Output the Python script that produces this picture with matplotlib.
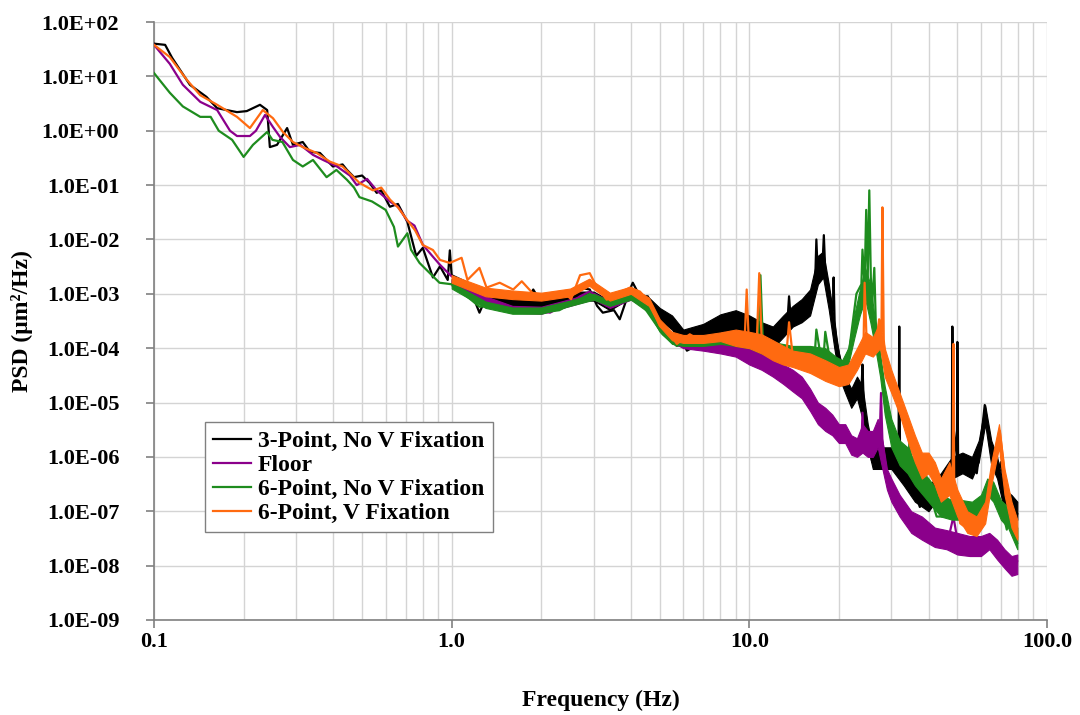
import numpy as np
import matplotlib
matplotlib.use("Agg")
import matplotlib.pyplot as plt
from matplotlib.ticker import FuncFormatter, LogLocator, NullLocator, FixedLocator

plt.rcParams['font.family'] = ['Liberation Serif', 'DejaVu Serif']
plt.rcParams['font.weight'] = 'bold'

### Valeurs : (frequence Hz, PSD um^2/Hz)
three_point = [
    (0.100, 40), (0.109, 38), (0.115, 22), (0.132, 7.0), (0.15, 4.2), (0.163, 2.6),
    (0.19, 2.2), (0.205, 2.3), (0.227, 3.0), (0.24, 2.4), (0.245, 0.50), (0.259, 0.55),
    (0.28, 1.12), (0.293, 0.55), (0.316, 0.62), (0.334, 0.41), (0.361, 0.39), (0.399, 0.22),
    (0.43, 0.24), (0.445, 0.19), (0.47, 0.14), (0.50, 0.15), (0.53, 0.11), (0.56, 0.072),
    (0.58, 0.08), (0.62, 0.04), (0.66, 0.045), (0.71, 0.021), (0.76, 0.005), (0.80, 0.007),
    (0.865, 0.002), (0.914, 0.0032), (0.97, 0.0018), (0.986, 0.0063), (1.0, 0.0022),
    (1.13, 0.0016), (1.24, 4.5e-4), (1.31, 9e-4), (1.45, 6e-4), (1.61, 8e-4), (1.72, 5.5e-4),
    (1.88, 1.2e-3), (2.01, 6.5e-4), (2.14, 9e-4), (2.36, 7e-4), (2.52, 1.0e-3), (2.70, 1.3e-3),
    (2.91, 1.2e-3), (3.08, 6e-4), (3.22, 4.5e-4), (3.51, 5e-4), (3.67, 3.4e-4), (3.97, 1.2e-3),
    (4.06, 1.6e-3), (4.29, 9e-4), (4.56, 9e-4), (4.8, 5e-4), (5.0, 5e-4), (5.41, 3.5e-4),
    (5.71, 2.5e-4), (6.17, 9e-5), (6.82, 1.2e-4), (7.5, 2.5e-4), (8.15, 3.5e-4), (8.8, 4e-4),
    (9.5, 3e-4), (10.2, 2.5e-4), (11.5, 1.6e-4), (12.3, 9e-5), (12.9, 3e-4), (13.4, 2.5e-4),
    (13.6, 9e-4), (13.8, 3e-4), (15.1, 7e-4), (16.0, 6e-4), (16.6, 1e-3), (16.8, 1e-2),
    (17.0, 2e-3), (17.2, 3.2e-3), (17.6, 3e-3), (17.8, 1.2e-2), (18.0, 2.5e-3), (18.2, 2e-3),
    (18.9, 6e-4), (19.1, 5e-4), (19.2, 2e-3), (19.35, 3e-4), (19.6, 1.4e-4), (20.5, 4e-5),
    (21.5, 1.5e-5), (22.2, 1e-5), (23.4, 2e-5), (23.8, 1.5e-5), (24.0, 5e-5), (24.3, 6e-6),
    (24.7, 3e-6), (25.9, 8e-7), (27.3, 1.5e-6), (28.8, 6e-7), (30.3, 1e-6), (31.7, 8e-7),
    (31.9, 2.5e-4), (32.1, 8e-7), (33.7, 5e-7), (35.4, 3e-7), (37.4, 1.2e-7), (40.5, 2e-7),
    (43.6, 3e-7), (46.3, 6e-7), (47.9, 8e-7), (48.1, 2.5e-4), (48.4, 4e-6), (49.8, 1e-6),
    (50.0, 1.3e-4), (50.3, 8e-7), (53.0, 1e-6), (56.3, 6e-7), (58.1, 5e-7), (60.0, 2e-6),
    (61.8, 9e-6), (63.0, 4e-6), (65.7, 1e-6), (68.4, 5e-7), (70.0, 8e-7), (73.3, 1.5e-7),
    (76.7, 1.2e-7), (79.4, 9e-8),
]

floor = [
    (0.100, 38), (0.113, 17), (0.125, 7.0), (0.143, 3.4), (0.163, 2.4), (0.18, 1.0),
    (0.19, 0.8), (0.21, 0.8), (0.22, 1.0), (0.236, 1.95), (0.251, 1.17), (0.265, 0.77),
    (0.286, 0.5), (0.31, 0.55), (0.342, 0.36), (0.37, 0.29), (0.412, 0.22), (0.455, 0.15),
    (0.48, 0.1), (0.52, 0.13), (0.56, 0.08), (0.62, 0.05), (0.66, 0.04), (0.71, 0.022),
    (0.75, 0.018), (0.80, 0.008), (0.86, 0.005), (0.91, 0.0035), (0.99, 0.0022),
    (1.08, 0.0015), (1.2, 0.0012), (1.31, 8e-4), (1.45, 6e-4), (1.61, 5e-4), (1.88, 5e-4),
    (2.14, 4.5e-4), (2.36, 6e-4), (2.52, 7e-4), (2.70, 9e-4), (2.91, 1.1e-3), (3.08, 9e-4),
    (3.32, 6e-4), (3.67, 8e-4), (3.97, 1e-3), (4.29, 8e-4), (4.56, 6e-4), (5.0, 2.5e-4),
    (5.41, 1.5e-4), (5.71, 1.1e-4), (6.17, 1.2e-4), (6.82, 1.0e-4), (7.5, 1.1e-4),
    (7.97, 9e-5), (8.8, 1.0e-4), (9.8, 8e-5), (10.9, 6e-5), (11.5, 9e-5), (12.9, 5e-5),
    (13.3, 2.6e-5), (14.3, 2.5e-5), (15.1, 1.6e-5), (16.0, 9e-6), (17.2, 5e-6), (18.2, 5.5e-6),
    (19.2, 4e-6), (20.1, 2.3e-6), (21.0, 2.8e-6), (22.9, 1.2e-6), (23.8, 1.5e-6),
    (24.0, 6.5e-6), (24.3, 1.5e-6), (24.7, 1.2e-6), (26.6, 1.5e-6), (27.4, 2e-6),
    (27.7, 1.5e-5), (28.0, 2e-6), (28.8, 5.7e-7), (31.2, 1.5e-7), (33.0, 1e-7), (35.4, 5e-8),
    (37.4, 6e-8), (40.5, 3.4e-8), (43.6, 2.5e-8), (46.3, 2.6e-8), (48.5, 8e-8), (50.0, 3e-8),
    (52.3, 2e-8), (55.0, 2.5e-8), (59.5, 2e-8), (62.0, 2.5e-8), (64.1, 3e-8), (66.0, 2e-8),
    (69.5, 1.8e-8), (72.0, 1.2e-8), (75.0, 1.1e-8), (77.0, 8e-9), (79.4, 1.2e-8),
]

six_point = [
    (0.100, 11.5), (0.113, 5.0), (0.125, 2.8), (0.143, 1.8), (0.155, 1.8), (0.165, 1.0),
    (0.183, 0.68), (0.2, 0.33), (0.215, 0.55), (0.24, 0.95), (0.25, 0.68), (0.27, 0.62),
    (0.293, 0.29), (0.316, 0.22), (0.342, 0.29), (0.38, 0.14), (0.41, 0.19), (0.445, 0.125),
    (0.47, 0.09), (0.49, 0.06), (0.54, 0.05), (0.6, 0.035), (0.64, 0.017), (0.66, 0.0074),
    (0.71, 0.013), (0.73, 0.0065), (0.78, 0.0037), (0.91, 0.0016), (1.0, 0.0015),
    (1.13, 8.8e-4), (1.24, 5.8e-4), (1.4, 6e-4), (1.61, 4.5e-4), (1.8, 5e-4), (2.0, 4.5e-4),
    (2.3, 5e-4), (2.52, 6.5e-4), (2.7, 8e-4), (2.91, 1.0e-3), (3.1, 8e-4), (3.4, 7e-4),
    (3.7, 8e-4), (4.06, 1.0e-3), (4.4, 6e-4), (4.8, 3e-4), (5.12, 1.8e-4), (5.41, 1.4e-4),
    (5.71, 1.1e-4), (6.17, 1.3e-4), (6.82, 1.2e-4), (7.5, 1.4e-4), (7.97, 1.6e-4),
    (8.8, 1.5e-4), (9.8, 1.3e-4), (10.7, 1.4e-4), (10.9, 2.2e-3), (11.1, 1.4e-4),
    (11.7, 9e-5), (12.9, 1.0e-4), (13.6, 8e-5), (15.1, 9e-5), (16.6, 8e-5), (16.8, 2.2e-4),
    (17.2, 1e-4), (17.8, 8e-5), (18.0, 2e-4), (18.5, 8e-5), (19.1, 5e-5), (20.5, 4.5e-5),
    (21.7, 1e-4), (22.9, 1e-3), (23.8, 1.5e-3), (24.0, 6.5e-3), (24.4, 1.5e-3),
    (24.7, 3.5e-2), (25.0, 2e-3), (25.3, 8e-2), (25.6, 2e-3), (25.9, 7e-4), (26.3, 3e-3),
    (26.6, 3e-4), (27.3, 9e-5), (28.0, 3e-5), (28.8, 6.6e-6), (30.3, 2e-6), (32.7, 1e-6),
    (34.3, 8e-7), (34.5, 2e-6), (35.4, 5e-7), (37.4, 3.6e-7), (40.5, 2e-7), (42.6, 8e-8),
    (46.3, 8e-8), (50.0, 1.2e-7), (53.0, 9e-8), (56.3, 8e-8), (59.5, 8e-8), (62.0, 1.5e-7),
    (64.1, 3.6e-7), (66.0, 2.5e-7), (68.4, 2e-7), (72.0, 7e-8), (73.3, 4.6e-8),
    (75.0, 2e-7), (77.0, 5e-8), (79.4, 2.6e-8),
]

six_point_v = [
    (0.100, 38), (0.113, 22.7), (0.129, 8.6), (0.143, 4.5), (0.163, 3.0), (0.19, 1.8),
    (0.21, 1.12), (0.232, 2.4), (0.251, 1.7), (0.271, 0.95), (0.293, 0.62), (0.316, 0.5),
    (0.352, 0.39), (0.39, 0.27), (0.43, 0.22), (0.49, 0.11), (0.544, 0.08), (0.58, 0.09),
    (0.621, 0.054), (0.66, 0.039), (0.708, 0.023), (0.753, 0.0148), (0.80, 0.0079),
    (0.865, 0.0064), (0.914, 0.0042), (0.986, 0.0037), (1.08, 0.0046), (1.13, 0.0018),
    (1.24, 0.003), (1.31, 0.0013), (1.45, 0.0016), (1.61, 0.0012), (1.72, 0.0017),
    (1.88, 0.001), (2.01, 9e-4), (2.14, 1.0e-3), (2.36, 1.1e-3), (2.52, 8e-4), (2.70, 2.2e-3),
    (2.91, 2.4e-3), (3.08, 1.3e-3), (3.32, 7.8e-4), (3.59, 1.0e-3), (3.97, 1.3e-3),
    (4.29, 1.1e-3), (4.63, 7e-4), (5.0, 2.6e-4), (5.41, 1.8e-4), (5.71, 1.2e-4),
    (6.31, 1.8e-4), (6.82, 1.4e-4), (7.78, 1.6e-4), (8.6, 1.8e-4), (9.15, 1.4e-4),
    (9.65, 1.5e-4), (9.8, 1.2e-3), (9.95, 1.5e-4), (10.6, 1.4e-4), (10.8, 2.4e-3),
    (11.0, 1.4e-4), (12.0, 1e-4), (13.3, 7e-5), (13.6, 3e-4), (14.0, 7e-5), (15.1, 5e-5),
    (17.2, 4e-5), (19.1, 2.6e-5), (20.5, 2.2e-5), (22.2, 3.5e-5), (23.4, 9e-5),
    (24.2, 1.2e-4), (24.4, 1.6e-3), (24.8, 1.2e-4), (25.3, 1e-4), (26.6, 1.1e-4),
    (27.3, 3.4e-4), (27.8, 2e-4), (28.0, 3.9e-2), (28.3, 1.4e-4), (28.8, 5e-5),
    (30.3, 2.6e-5), (31.9, 8.4e-6), (33.0, 6e-6), (34.5, 2.4e-6), (37.4, 5.6e-7),
    (40.5, 7e-7), (43.6, 1.9e-7), (46.6, 4e-7), (48.2, 3e-7), (48.5, 1.2e-4), (48.8, 3e-7),
    (51.1, 6e-8), (56.3, 4e-8), (60.9, 6e-8), (65.7, 5.6e-7), (69.5, 3e-6), (73.3, 2e-7),
    (76.7, 6e-8), (79.4, 3.4e-8),
]

### Enveloppe du bruit (frequence, bas, haut) au-dessus de 1 Hz
band_three_point = [
    (1.0, 1.5e-3, 1.9e-3), (1.3, 6.5e-4, 9e-4), (1.6, 5.5e-4, 8e-4), (2.0, 5.8e-4, 8.5e-4),
    (2.5, 7.5e-4, 1.1e-3), (3.0, 7.5e-4, 1.1e-3), (3.4, 5e-4, 7.5e-4), (4.0, 8.5e-4, 1.3e-3),
    (4.6, 5.5e-4, 8.5e-4), (5.0, 3.3e-4, 5.5e-4), (5.5, 2.2e-4, 4e-4), (6.0, 1.1e-4, 2.2e-4),
    (7.0, 1.4e-4, 2.8e-4), (8.0, 2e-4, 4.2e-4), (9.0, 2.2e-4, 5e-4), (10.0, 1.8e-4, 4e-4),
    (11.0, 1.4e-4, 3e-4), (12.0, 1e-4, 2.5e-4), (13.0, 1.6e-4, 4e-4), (14.0, 2.5e-4, 6e-4),
    (15.0, 3e-4, 8e-4), (16.0, 4e-4, 1.2e-3), (17.0, 1.5e-3, 5e-3), (17.7, 2e-3, 6e-3),
    (18.5, 5e-4, 1.5e-3), (19.3, 1e-4, 3e-4), (20.0, 3e-5, 8e-5), (21.0, 1.5e-5, 3e-5),
    (22.0, 8e-6, 1.8e-5), (23.0, 1.2e-5, 3e-5), (24.0, 5e-6, 2e-5), (25.0, 1.5e-6, 4e-6),
    (26.0, 6e-7, 1.5e-6), (28.0, 6e-7, 1.5e-6), (30.0, 6e-7, 1.5e-6), (33.0, 3e-7, 8e-7),
    (36.0, 1.5e-7, 4e-7), (40.0, 1e-7, 3e-7), (44.0, 2e-7, 5e-7), (48.0, 4e-7, 1e-6),
    (52.0, 5e-7, 1.2e-6), (56.0, 4e-7, 1e-6), (59.0, 8e-7, 2e-6), (62.0, 4e-6, 9e-6),
    (65.0, 7e-7, 2e-6), (68.0, 4e-7, 1e-6), (72.0, 1e-7, 2.5e-7), (76.0, 8e-8, 2e-7),
    (79.5, 7e-8, 1.5e-7),
]

band_floor = [
    (1.0, 1.4e-3, 1.8e-3), (1.3, 7e-4, 9e-4), (1.6, 4.5e-4, 6e-4), (2.0, 4.3e-4, 5.8e-4),
    (2.5, 6e-4, 8e-4), (3.0, 8e-4, 1.05e-3), (3.4, 5.5e-4, 7.2e-4), (4.0, 7.8e-4, 1e-3),
    (4.6, 5e-4, 7e-4), (5.0, 2.2e-4, 3.1e-4), (5.5, 1.3e-4, 1.8e-4), (6.0, 1e-4, 1.35e-4),
    (7.0, 9e-5, 1.2e-4), (8.0, 8e-5, 1.2e-4), (9.0, 7e-5, 1.2e-4), (10.0, 5e-5, 1.1e-4),
    (11.0, 4e-5, 9e-5), (12.0, 3e-5, 7e-5), (13.0, 2.2e-5, 5e-5), (14.0, 1.6e-5, 4e-5),
    (15.0, 1.2e-5, 3e-5), (16.0, 7e-6, 1.8e-5), (17.0, 4e-6, 1e-5), (18.0, 3e-6, 8e-6),
    (19.0, 2.5e-6, 6e-6), (20.0, 1.8e-6, 4e-6), (21.0, 1.8e-6, 4e-6), (22.0, 1.1e-6, 2.5e-6),
    (23.0, 1e-6, 2.2e-6), (24.0, 1.2e-6, 4e-6), (25.0, 1e-6, 3e-6), (26.0, 1e-6, 3e-6),
    (27.0, 1.5e-6, 5e-6), (28.0, 6e-7, 2e-6), (29.0, 2.5e-7, 6e-7), (30.0, 1.5e-7, 4e-7),
    (32.0, 8e-8, 2e-7), (35.0, 4e-8, 1e-7), (38.0, 3e-8, 8e-8), (42.0, 2.2e-8, 5e-8),
    (46.0, 2e-8, 4.5e-8), (50.0, 1.6e-8, 4e-8), (55.0, 1.5e-8, 3.5e-8), (60.0, 1.5e-8, 3.5e-8),
    (64.0, 2e-8, 4e-8), (68.0, 1.3e-8, 3e-8), (72.0, 9e-9, 2e-8), (76.0, 6.5e-9, 1.5e-8),
    (79.5, 7e-9, 1.6e-8),
]

band_six_point = [
    (1.0, 1.25e-3, 1.6e-3), (1.3, 5.5e-4, 7.2e-4), (1.6, 4.3e-4, 5.6e-4), (2.0, 4.3e-4, 5.6e-4),
    (2.5, 6e-4, 7.5e-4), (3.0, 7.8e-4, 1e-3), (3.4, 6e-4, 7.5e-4), (4.0, 7.8e-4, 1e-3),
    (4.6, 4.5e-4, 6.2e-4), (5.0, 2e-4, 2.7e-4), (5.5, 1.2e-4, 1.6e-4), (6.0, 1.1e-4, 1.45e-4),
    (7.0, 1.1e-4, 1.45e-4), (8.0, 1.2e-4, 1.65e-4), (9.0, 1.1e-4, 1.8e-4), (10.0, 1e-4, 1.7e-4),
    (11.0, 8e-5, 1.5e-4), (12.0, 7e-5, 1.3e-4), (14.0, 6e-5, 1.1e-4), (16.0, 6e-5, 1.1e-4),
    (18.0, 5e-5, 1e-4), (19.5, 4e-5, 7e-5), (20.5, 3.5e-5, 6e-5), (21.5, 5e-5, 1e-4),
    (22.5, 1.5e-4, 4e-4), (23.5, 4e-4, 1.2e-3), (24.5, 8e-4, 3e-3), (25.5, 3e-4, 1.5e-3),
    (26.5, 1e-4, 3e-4), (27.5, 3e-5, 8e-5), (28.5, 6e-6, 2e-5), (30.0, 1.5e-6, 5e-6),
    (32.0, 7e-7, 2e-6), (34.0, 5e-7, 1.5e-6), (36.0, 3e-7, 8e-7), (40.0, 1.5e-7, 4e-7),
    (44.0, 8e-8, 2e-7), (48.0, 7e-8, 1.6e-7), (52.0, 7e-8, 1.6e-7), (56.0, 7e-8, 1.5e-7),
    (60.0, 8e-8, 2e-7), (63.0, 2e-7, 4e-7), (66.0, 1.5e-7, 3.5e-7), (70.0, 7e-8, 1.6e-7),
    (74.0, 5e-8, 1.2e-7), (79.5, 2e-8, 5e-8),
]

band_six_point_v = [
    (1.0, 1.6e-3, 2.2e-3), (1.3, 9e-4, 1.3e-3), (1.6, 8e-4, 1.15e-3), (2.0, 7.5e-4, 1.05e-3),
    (2.5, 9e-4, 1.25e-3), (2.9, 1.4e-3, 1.9e-3), (3.4, 7.5e-4, 1.05e-3), (4.0, 1e-3, 1.35e-3),
    (4.6, 6e-4, 8.5e-4), (5.0, 2.5e-4, 3.4e-4), (5.5, 1.4e-4, 2e-4), (6.0, 1.25e-4, 1.75e-4),
    (7.0, 1.25e-4, 1.75e-4), (8.0, 1.35e-4, 1.95e-4), (9.0, 1.1e-4, 2.2e-4), (10.0, 1e-4, 2e-4),
    (11.0, 8e-5, 1.8e-4), (12.0, 6e-5, 1.4e-4), (13.0, 5e-5, 1.1e-4), (14.0, 4.5e-5, 9e-5),
    (16.0, 3.5e-5, 8e-5), (18.0, 2.5e-5, 6e-5), (20.0, 2e-5, 4.5e-5), (21.5, 2.2e-5, 5e-5),
    (23.0, 4e-5, 1e-4), (24.5, 8e-5, 2e-4), (26.0, 7e-5, 1.6e-4), (27.5, 1e-4, 3e-4),
    (28.5, 3e-5, 1e-4), (30.0, 1.5e-5, 4e-5), (32.0, 6e-6, 1.5e-5), (34.0, 2e-6, 6e-6),
    (36.0, 8e-7, 2.5e-6), (38.0, 4e-7, 1.2e-6), (40.0, 5e-7, 1.2e-6), (42.0, 3e-7, 8e-7),
    (44.0, 1.5e-7, 4e-7), (47.0, 2e-7, 8e-7), (50.0, 8e-8, 2.5e-7), (54.0, 4e-8, 1e-7),
    (58.0, 3.5e-8, 8e-8), (62.0, 6e-8, 1.5e-7), (65.0, 3e-7, 8e-7), (69.0, 1.5e-6, 4e-6),
    (72.0, 2e-7, 6e-7), (76.0, 5e-8, 1.5e-7), (79.5, 3e-8, 7e-8),
]

series = [
    ("3-Point, No V Fixation", three_point, band_three_point, "#000000"),
    ("Floor", floor, band_floor, "#8B008B"),
    ("6-Point, No V Fixation", six_point, band_six_point, "#1E8C1E"),
    ("6-Point, V Fixation", six_point_v, band_six_point_v, "#FF6A10"),
]

fig = plt.figure(figsize=(10.8, 7.15), dpi=100)
ax = fig.add_axes([0.1426, 0.1329, 0.8268, 0.8363])

z = 3
for nom, pts, band, col in series:
    f, p = zip(*pts)
    fb, lo, hi = zip(*band)
    ax.fill_between(fb, lo, hi, color=col, lw=0.8, zorder=z)
    ax.plot(f, p, color=col, lw=1.6, label=nom, zorder=z + 0.5)
    z += 1

ax.set_xscale('log')
ax.set_yscale('log')
ax.set_xlim(0.1, 100)
ax.set_ylim(1e-9, 1e2)

ax.yaxis.set_major_locator(FixedLocator([10.0 ** k for k in range(-9, 3)]))
ax.yaxis.set_minor_locator(NullLocator())
ax.xaxis.set_major_locator(FixedLocator([0.1, 1, 10, 100]))
ax.xaxis.set_minor_locator(LogLocator(base=10, subs=np.arange(2, 10)))
ax.yaxis.set_major_formatter(FuncFormatter(lambda v, pos: "%.1E" % v))
ax.xaxis.set_major_formatter(FuncFormatter(lambda v, pos: "%.1f" % v))

ax.grid(True, which='major', color='#d4d4d4', lw=1.0)
ax.grid(True, which='minor', axis='x', color='#d4d4d4', lw=1.0)
ax.set_axisbelow(True)

for s in ['top', 'right']:
    ax.spines[s].set_visible(False)
for s in ['left', 'bottom']:
    ax.spines[s].set_color('#808080')
    ax.spines[s].set_linewidth(1.2)

ax.tick_params(which='major', direction='out', length=6, color='#808080', width=1.2,
               labelsize=16)
ax.tick_params(axis='x', which='major', pad=3)
ax.tick_params(axis='y', which='major', pad=19)
ax.tick_params(which='minor', length=0)

ax.set_xlabel('Frequency (Hz)', fontsize=17, fontweight='bold', labelpad=27)
ax.set_ylabel('PSD (μm²/Hz)', fontsize=17, fontweight='bold', labelpad=6)

leg = ax.legend(loc='lower left', bbox_to_anchor=(0.057, 0.147), borderaxespad=0,
                fontsize=17, handlelength=1.6, handletextpad=0.3, borderpad=0.35,
                labelspacing=0.1, fancybox=False, framealpha=1, edgecolor='#808080')
leg.get_frame().set_linewidth(1.0)
leg.set_zorder(10)

fig.savefig('out.png', dpi=100)
